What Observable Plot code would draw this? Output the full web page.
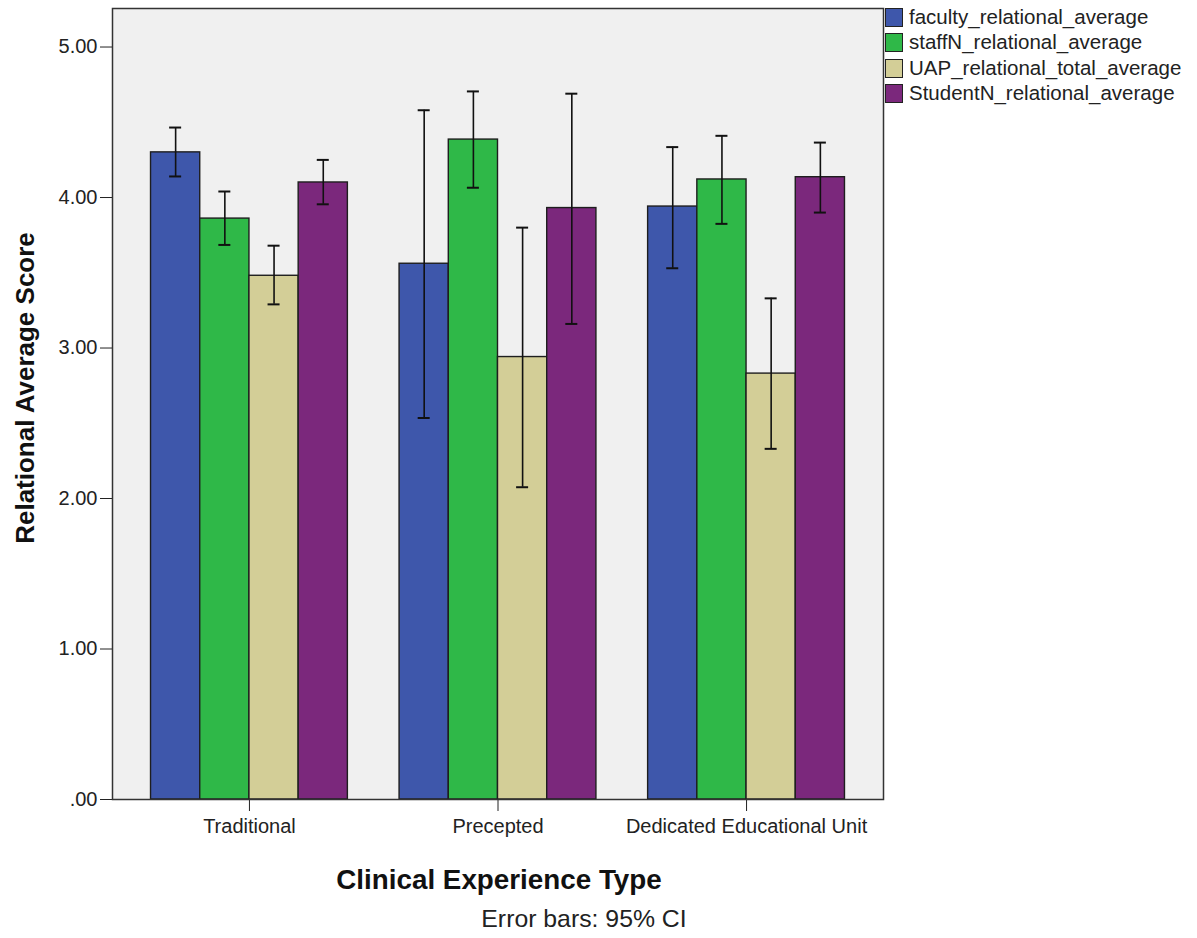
<!DOCTYPE html>
<html>
<head>
<meta charset="utf-8">
<script src="https://cdn.jsdelivr.net/npm/d3@7"></script>
<script src="https://cdn.jsdelivr.net/npm/@observablehq/plot@0.6"></script>
<style>
  html, body { margin: 0; padding: 0; background: #fff; }
  #wrap { position: relative; width: 1197px; height: 938px; font-family: "Liberation Sans", Arial, sans-serif; }
  #chart { position: absolute; left: 0; top: 0; }
  .legend-row { position: absolute; left: 885px; height: 20px; display: flex; align-items: center; }
  .sw { width: 18px; height: 19px; box-sizing: border-box; border: 1.5px solid #222; }
  .lt { margin-left: 6px; font-size: 20.5px; color: #222; white-space: nowrap; line-height: 1; }
  .xtitle { position: absolute; left: 0; width: 998px; text-align: center; font-weight: bold; font-size: 27.8px; line-height: 1; color: #111; }
  .ytitle { position: absolute; width: 500px; text-align: center; font-weight: bold; font-size: 26px; line-height: 1; color: #111; }
  .caption { position: absolute; left: 0; width: 1168px; text-align: center; font-size: 24.8px; line-height: 1; color: #222; }
</style>
</head>
<body>
<div id="wrap">
  <div id="chart"></div>
</div>
<script>
// ---- data ----
const categories = ["Traditional", "Precepted", "Dedicated Educational Unit"];
const series = ["faculty_relational_average", "staffN_relational_average", "UAP_relational_total_average", "StudentN_relational_average"];
const colors = ["#3e57ab", "#2fb848", "#d3ce97", "#7b287c"];

const facultyMean = [4.30, 3.56, 3.94];
const staffMean   = [3.86, 4.385, 4.12];
const uapMean     = [3.48, 2.94, 2.83];
const studentMean = [4.10, 3.93, 4.135];

const facultyLo = [4.14, 2.535, 3.53];
const facultyHi = [4.465, 4.58, 4.335];
const staffLo   = [3.685, 4.065, 3.825];
const staffHi   = [4.04, 4.705, 4.41];
const uapLo     = [3.29, 2.075, 2.33];
const uapHi     = [3.68, 3.80, 3.33];
const studentLo = [3.955, 3.16, 3.90];
const studentHi = [4.25, 4.69, 4.365];

const yTicks = [0, 1, 2, 3, 4, 5];

// ---- build table ----
const means = [facultyMean, staffMean, uapMean, studentMean];
const los = [facultyLo, staffLo, uapLo, studentLo];
const his = [facultyHi, staffHi, uapHi, studentHi];

const barW = 0.198;              // width of one bar in group units
const capHalf = barW * 0.122;    // half width of error-bar caps
const rows = [];
categories.forEach((c, i) => {
  series.forEach((s, j) => {
    const x1 = i + (j - 2) * barW;
    rows.push({
      category: c, series: s,
      x1, x2: x1 + barW, xc: x1 + barW / 2,
      mean: means[j][i], lo: los[j][i], hi: his[j][i]
    });
  });
});

const plot = Plot.plot({
  width: 1197,
  height: 938,
  marginLeft: 112,
  marginRight: 314,
  marginTop: 8,
  marginBottom: 139,
  style: { fontFamily: "'Liberation Sans', Arial, sans-serif", fontSize: "20px", color: "#222", background: "transparent" },
  x: { domain: [-0.551, 2.551], ticks: [0, 1, 2], tickFormat: i => categories[i], tickSize: 12, tickPadding: 7, label: null },
  y: { domain: [0, 5.256], ticks: yTicks, tickFormat: d => d === 0 ? ".00" : d.toFixed(2), tickSize: 12, tickPadding: 3, label: null },
  color: { domain: series, range: colors },
  marks: [
    Plot.frame({ fill: "#f0f0f0" }),
    Plot.rect(rows, { x1: "x1", x2: "x2", y1: () => 0, y2: "mean", fill: "series", stroke: "#1e1e1e", strokeWidth: 1.4 }),
    Plot.ruleX(rows, { x: "xc", y1: "lo", y2: "hi", stroke: "#111", strokeWidth: 1.6 }),
    Plot.ruleY(rows, { y: "lo", x1: d => d.xc - capHalf, x2: d => d.xc + capHalf, stroke: "#111", strokeWidth: 2 }),
    Plot.ruleY(rows, { y: "hi", x1: d => d.xc - capHalf, x2: d => d.xc + capHalf, stroke: "#111", strokeWidth: 2 }),
    Plot.frame({ stroke: "#333", strokeWidth: 1.5 })
  ]
});
document.getElementById("chart").appendChild(plot);

const wrap = document.getElementById("wrap");
// legend
series.forEach((s, j) => {
  const row = document.createElement("div");
  row.className = "legend-row";
  row.style.top = (7 + j * 25.5) + "px";
  const sw = document.createElement("div");
  sw.className = "sw";
  sw.style.background = colors[j];
  const t = document.createElement("div");
  t.className = "lt";
  t.textContent = s;
  row.appendChild(sw); row.appendChild(t);
  wrap.appendChild(row);
});
// titles
const xt = document.createElement("div");
xt.className = "xtitle"; xt.textContent = "Clinical Experience Type";
xt.style.top = (890 - 0.8465 * 27.8) + "px";
wrap.appendChild(xt);

const yt = document.createElement("div");
yt.className = "ytitle"; yt.textContent = "Relational Average Score";
yt.style.left = (24.5 - 250) + "px";
yt.style.top = (387.5 - 13) + "px";
yt.style.transform = "rotate(-90deg)";
wrap.appendChild(yt);

const cap = document.createElement("div");
cap.className = "caption"; cap.textContent = "Error bars: 95% CI";
cap.style.top = (928 - 0.8465 * 24.8) + "px";
wrap.appendChild(cap);
</script>
</body>
</html>
